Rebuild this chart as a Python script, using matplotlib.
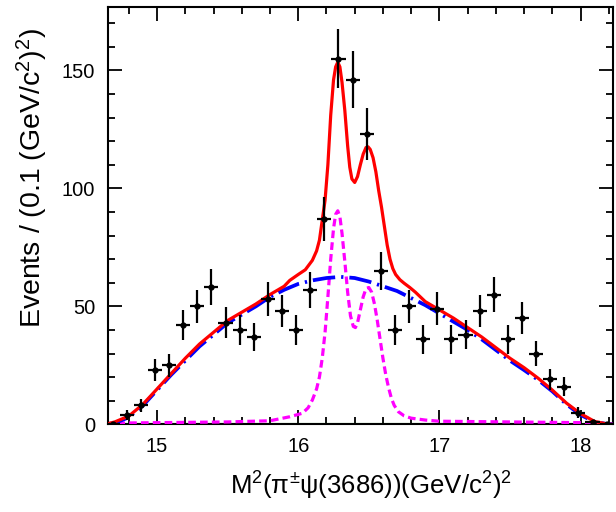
import numpy as np
import matplotlib
matplotlib.use("Agg")
import matplotlib.pyplot as plt
from matplotlib.ticker import MultipleLocator

plt.rcParams['font.family'] = ['Liberation Sans', 'DejaVu Sans']
plt.rcParams['mathtext.fontset'] = 'custom'
plt.rcParams['mathtext.rm'] = 'Liberation Sans'
plt.rcParams['mathtext.it'] = 'Liberation Sans:italic'
plt.rcParams['mathtext.bf'] = 'Liberation Sans:bold'

# ---- data points (bin centers, counts) ----
bin_centers = [14.685, 14.785, 14.885, 14.985, 15.085, 15.185, 15.285, 15.385, 15.485, 15.585,
               15.685, 15.785, 15.885, 15.985, 16.085, 16.185, 16.285, 16.385, 16.485, 16.585,
               16.685, 16.785, 16.885, 16.985, 17.085, 17.185, 17.285, 17.385, 17.485, 17.585,
               17.685, 17.785, 17.885, 17.985, 18.085, 18.185]
counts = [0, 4, 8, 23, 25, 42, 50, 58, 43, 40,
          37, 53, 48, 40, 57, 87, 155, 146, 123, 65,
          40, 50, 36, 49, 36, 38, 48, 55, 36, 45,
          30, 19, 16, 5, 1, 0]
bin_half_width = 0.05

# ---- total fit (red) ----
total_x = [14.635, 14.70, 14.80, 14.90, 15.00, 15.10, 15.20, 15.30, 15.40, 15.50, 15.60, 15.70,
           15.80, 15.90, 15.94, 16.00, 16.05, 16.10, 16.13, 16.15, 16.17, 16.19, 16.21, 16.23,
           16.25, 16.265, 16.28, 16.295, 16.31, 16.33, 16.35, 16.365, 16.38, 16.40, 16.42, 16.44,
           16.46, 16.48, 16.495, 16.51, 16.53, 16.55, 16.57, 16.59, 16.61, 16.63, 16.65, 16.67,
           16.69, 16.72, 16.75, 16.79, 16.83, 16.90, 17.00, 17.10, 17.20, 17.30, 17.40, 17.50,
           17.60, 17.70, 17.80, 17.90, 18.00, 18.10, 18.20, 18.23]
total_y = [0, 1, 3.5, 8.5, 15, 21.5, 28, 34, 39, 44, 47.5, 51,
           55, 58.5, 61, 63.5, 65.5, 69.5, 73.5, 78, 86.5, 95, 110, 131,
           146, 151.5, 153.5, 151.5, 145, 133, 118, 109, 104, 102.5, 105, 110,
           114.5, 117.3, 117.6, 116.5, 113, 107, 99, 92, 84, 76, 70, 66,
           63.5, 61.3, 59.8, 58, 56, 52, 48.5, 45, 41, 37, 32.5, 28,
           24, 19.5, 14.5, 9, 4.5, 1.2, 0, 0]

# ---- background (blue dash-dot) ----
bkg_x = [14.635, 14.70, 14.80, 14.90, 15.00, 15.10, 15.20, 15.30, 15.40, 15.50, 15.60, 15.70,
         15.80, 15.90, 16.00, 16.10, 16.20, 16.30, 16.40, 16.50, 16.60, 16.70, 16.80, 16.90,
         17.00, 17.10, 17.20, 17.30, 17.40, 17.50, 17.60, 17.70, 17.80, 17.90, 18.00, 18.10,
         18.20, 18.23]
bkg_y = [0, 0.5, 3, 8, 14.5, 21, 27, 33, 38, 43, 46.5, 50,
         54, 57, 59.5, 61, 62, 62.5, 62, 60.5, 58.5, 56.5, 53.5, 50.5,
         47, 43.5, 40, 36, 31.5, 27, 23, 18.8, 14, 8.5, 4, 1,
         0, 0]

# ---- signal (magenta dashed) ----
sig_x = [14.635, 14.70, 15.00, 15.50, 15.80, 15.94, 16.03, 16.07, 16.10, 16.13, 16.15, 16.17,
         16.19, 16.21, 16.23, 16.25, 16.265, 16.28, 16.295, 16.31, 16.33, 16.35, 16.37, 16.39,
         16.405, 16.42, 16.44, 16.46, 16.48, 16.50, 16.52, 16.54, 16.56, 16.58, 16.60, 16.62,
         16.64, 16.66, 16.68, 16.71, 16.75, 16.80, 16.90, 17.00, 17.50, 18.00, 18.15, 18.23]
sig_y = [0, 0.5, 0.7, 1, 1.5, 3.2, 4.7, 7, 10.3, 15, 20, 28,
         39, 54, 70, 83, 89, 90.5, 88, 81, 69, 56, 46, 41.5,
         41, 43, 48.5, 54, 57.5, 58, 56, 51, 44, 36, 28, 21,
         15.5, 11, 8, 5.3, 3.6, 2.6, 1.8, 1.3, 1, 0.7, 0.3, 0]

# ---- zero component (green) ----
zero_x = [14.635, 18.23]
zero_y = [0, 0]

fig = plt.figure(figsize=(6.16, 5.12), dpi=100)
ax = fig.add_axes([107.7 / 616, (512 - 424.3) / 512, (613 - 107.7) / 616, (424.3 - 6.7) / 512])

ax.plot(zero_x, zero_y, color='#00cc00', lw=1.5, zorder=2)
ax.plot(sig_x, sig_y, color='#ff00ff', lw=2.3, dashes=(2.4, 1.3), zorder=3)
ax.plot(bkg_x, bkg_y, color='#0000ff', lw=2.7, dashes=(6, 1.6, 0.6, 1.6), zorder=4)
ax.plot(total_x, total_y, color='#ff0000', lw=2.3, zorder=5, solid_joinstyle='round')

c = np.array(counts, dtype=float)
err_lo = np.sqrt(c)
err_hi = np.where(c > 0, np.sqrt(c), 1.15)
ax.errorbar(bin_centers, counts, yerr=[err_lo, err_hi], xerr=bin_half_width,
            fmt='o', color='black', ms=3.5, elinewidth=1.6, capsize=0, zorder=6)

ax.set_xlim(14.65, 18.23)
ax.set_ylim(0, 177)
ax.xaxis.set_major_locator(MultipleLocator(1))
ax.xaxis.set_minor_locator(MultipleLocator(0.2))
ax.yaxis.set_major_locator(MultipleLocator(50))
ax.yaxis.set_minor_locator(MultipleLocator(10))
ax.tick_params(which='both', direction='in', top=True, right=True, width=1.3)
ax.tick_params(which='major', length=10, labelsize=14.5, pad=9)
ax.tick_params(which='minor', length=5)
for s in ax.spines.values():
    s.set_linewidth(1.5)

fig.text(371 / 616, 26 / 512, 'M$^{2}$(π$^{\\pm}$ψ(3686))(GeV/c$^{2}$)$^{2}$',
         ha='center', va='center', fontsize=18.5)
fig.text(32 / 616, 1 - 28 / 512, 'Events / (0.1 (GeV/c$^{2}$)$^{2}$)',
         ha='center', va='top', rotation=90, fontsize=20.5)

fig.savefig('out.png', dpi=100)
